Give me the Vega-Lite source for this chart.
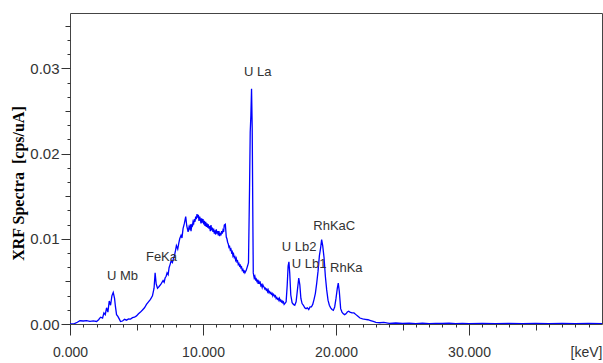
{
  "$schema": "https://vega.github.io/schema/vega-lite/v6.json",
  "width": 532,
  "height": 311,
  "autosize": {"type": "none"},
  "padding": {"left": 70, "top": 13, "right": 1, "bottom": 39},
  "background": "white",
  "config": {
    "view": {"stroke": "#444", "strokeWidth": 1},
    "axis": {"grid": false, "domain": false, "tickColor": "#333", "labelColor": "#333", "labelFlush": false, "labelFont": "Liberation Sans Narrow, Liberation Sans, sans-serif"}
  },
  "datasets": {
    "spectrum": [
      {"E":0.00,"v":0.00000},{"E":0.30,"v":0.00002},{"E":0.55,"v":0.00020},{"E":0.75,"v":0.00038},{"E":1.00,"v":0.00035},{"E":1.25,"v":0.00040},{"E":1.50,"v":0.00030},{"E":1.75,"v":0.00036},{"E":2.00,"v":0.00030},{"E":2.15,"v":0.00050},{"E":2.30,"v":0.00080},{"E":2.45,"v":0.00070},{"E":2.55,"v":0.00130},{"E":2.65,"v":0.00110},{"E":2.75,"v":0.00190},{"E":2.85,"v":0.00140},{"E":2.95,"v":0.00270},{"E":3.05,"v":0.00220},{"E":3.15,"v":0.00330},{"E":3.25,"v":0.00370},{"E":3.35,"v":0.00300},{"E":3.42,"v":0.00200},{"E":3.50,"v":0.00110},{"E":3.60,"v":0.00090},{"E":3.70,"v":0.00060},{"E":3.80,"v":0.00030},{"E":3.95,"v":0.00035},{"E":4.10,"v":0.00055},{"E":4.25,"v":0.00045},{"E":4.40,"v":0.00060},{"E":4.55,"v":0.00058},{"E":4.70,"v":0.00075},{"E":4.85,"v":0.00080},{"E":5.00,"v":0.00095},{"E":5.15,"v":0.00120},{"E":5.30,"v":0.00140},{"E":5.45,"v":0.00165},{"E":5.60,"v":0.00190},{"E":5.75,"v":0.00230},{"E":5.90,"v":0.00260},{"E":6.05,"v":0.00290},{"E":6.20,"v":0.00330},{"E":6.32,"v":0.00420},{"E":6.40,"v":0.00600},{"E":6.48,"v":0.00470},{"E":6.58,"v":0.00420},{"E":6.70,"v":0.00440},{"E":6.85,"v":0.00470},{"E":7.00,"v":0.00510},{"E":7.08,"v":0.00490},{"E":7.15,"v":0.00540},{"E":7.23,"v":0.00560},{"E":7.30,"v":0.00600},{"E":7.38,"v":0.00580},{"E":7.45,"v":0.00660},{"E":7.53,"v":0.00700},{"E":7.60,"v":0.00740},{"E":7.70,"v":0.00720},{"E":7.78,"v":0.00770},{"E":7.85,"v":0.00800},{"E":7.93,"v":0.00860},{"E":8.00,"v":0.00920},{"E":8.10,"v":0.00880},{"E":8.18,"v":0.00950},{"E":8.25,"v":0.01000},{"E":8.35,"v":0.01040},{"E":8.42,"v":0.01010},{"E":8.50,"v":0.01120},{"E":8.60,"v":0.01180},{"E":8.70,"v":0.01260},{"E":8.78,"v":0.01150},{"E":8.88,"v":0.01080},{"E":8.95,"v":0.01140},{"E":9.00,"v":0.01120},{"E":9.05,"v":0.01170},{"E":9.10,"v":0.01090},{"E":9.15,"v":0.01160},{"E":9.20,"v":0.01150},{"E":9.25,"v":0.01200},{"E":9.30,"v":0.01180},{"E":9.35,"v":0.01230},{"E":9.40,"v":0.01200},{"E":9.45,"v":0.01260},{"E":9.50,"v":0.01230},{"E":9.55,"v":0.01290},{"E":9.60,"v":0.01250},{"E":9.65,"v":0.01280},{"E":9.70,"v":0.01210},{"E":9.75,"v":0.01260},{"E":9.80,"v":0.01230},{"E":9.85,"v":0.01180},{"E":9.90,"v":0.01240},{"E":9.95,"v":0.01190},{"E":10.00,"v":0.01230},{"E":10.05,"v":0.01170},{"E":10.10,"v":0.01210},{"E":10.15,"v":0.01150},{"E":10.20,"v":0.01200},{"E":10.25,"v":0.01140},{"E":10.30,"v":0.01180},{"E":10.35,"v":0.01130},{"E":10.40,"v":0.01170},{"E":10.45,"v":0.01120},{"E":10.50,"v":0.01150},{"E":10.55,"v":0.01090},{"E":10.60,"v":0.01160},{"E":10.65,"v":0.01100},{"E":10.70,"v":0.01130},{"E":10.75,"v":0.01080},{"E":10.80,"v":0.01120},{"E":10.85,"v":0.01060},{"E":10.90,"v":0.01100},{"E":10.95,"v":0.01050},{"E":11.00,"v":0.01110},{"E":11.05,"v":0.01060},{"E":11.10,"v":0.01090},{"E":11.15,"v":0.01040},{"E":11.20,"v":0.01090},{"E":11.25,"v":0.01030},{"E":11.30,"v":0.01070},{"E":11.35,"v":0.01040},{"E":11.40,"v":0.01090},{"E":11.45,"v":0.01060},{"E":11.50,"v":0.01100},{"E":11.55,"v":0.01080},{"E":11.60,"v":0.01160},{"E":11.68,"v":0.01170},{"E":11.75,"v":0.01020},{"E":11.80,"v":0.01000},{"E":11.85,"v":0.00960},{"E":11.90,"v":0.00940},{"E":11.95,"v":0.00900},{"E":12.00,"v":0.00910},{"E":12.05,"v":0.00870},{"E":12.10,"v":0.00880},{"E":12.15,"v":0.00840},{"E":12.20,"v":0.00850},{"E":12.25,"v":0.00800},{"E":12.30,"v":0.00820},{"E":12.35,"v":0.00780},{"E":12.40,"v":0.00790},{"E":12.45,"v":0.00750},{"E":12.50,"v":0.00770},{"E":12.55,"v":0.00730},{"E":12.60,"v":0.00740},{"E":12.65,"v":0.00700},{"E":12.70,"v":0.00710},{"E":12.75,"v":0.00680},{"E":12.80,"v":0.00690},{"E":12.85,"v":0.00660},{"E":12.90,"v":0.00670},{"E":12.95,"v":0.00630},{"E":13.00,"v":0.00640},{"E":13.05,"v":0.00610},{"E":13.10,"v":0.00620},{"E":13.15,"v":0.00600},{"E":13.25,"v":0.00630},{"E":13.35,"v":0.00680},{"E":13.42,"v":0.00720},{"E":13.50,"v":0.01600},{"E":13.55,"v":0.02250},{"E":13.60,"v":0.02450},{"E":13.65,"v":0.02760},{"E":13.70,"v":0.02300},{"E":13.74,"v":0.01400},{"E":13.78,"v":0.00600},{"E":13.85,"v":0.00540},{"E":13.90,"v":0.00560},{"E":13.95,"v":0.00520},{"E":14.00,"v":0.00530},{"E":14.05,"v":0.00500},{"E":14.10,"v":0.00510},{"E":14.15,"v":0.00470},{"E":14.20,"v":0.00500},{"E":14.25,"v":0.00480},{"E":14.30,"v":0.00490},{"E":14.35,"v":0.00450},{"E":14.40,"v":0.00460},{"E":14.45,"v":0.00430},{"E":14.50,"v":0.00460},{"E":14.55,"v":0.00440},{"E":14.60,"v":0.00430},{"E":14.65,"v":0.00410},{"E":14.70,"v":0.00420},{"E":14.75,"v":0.00400},{"E":14.80,"v":0.00410},{"E":14.85,"v":0.00380},{"E":14.90,"v":0.00400},{"E":14.95,"v":0.00370},{"E":15.00,"v":0.00380},{"E":15.05,"v":0.00360},{"E":15.10,"v":0.00370},{"E":15.15,"v":0.00350},{"E":15.20,"v":0.00360},{"E":15.25,"v":0.00330},{"E":15.30,"v":0.00350},{"E":15.35,"v":0.00340},{"E":15.40,"v":0.00320},{"E":15.45,"v":0.00330},{"E":15.50,"v":0.00300},{"E":15.55,"v":0.00310},{"E":15.60,"v":0.00290},{"E":15.65,"v":0.00300},{"E":15.70,"v":0.00280},{"E":15.75,"v":0.00300},{"E":15.80,"v":0.00270},{"E":15.85,"v":0.00280},{"E":15.90,"v":0.00260},{"E":15.95,"v":0.00270},{"E":16.00,"v":0.00250},{"E":16.05,"v":0.00260},{"E":16.10,"v":0.00230},{"E":16.15,"v":0.00240},{"E":16.25,"v":0.00260},{"E":16.33,"v":0.00450},{"E":16.40,"v":0.00680},{"E":16.46,"v":0.00730},{"E":16.52,"v":0.00600},{"E":16.60,"v":0.00340},{"E":16.70,"v":0.00250},{"E":16.80,"v":0.00230},{"E":16.90,"v":0.00220},{"E":17.00,"v":0.00260},{"E":17.10,"v":0.00400},{"E":17.20,"v":0.00540},{"E":17.28,"v":0.00460},{"E":17.36,"v":0.00300},{"E":17.45,"v":0.00240},{"E":17.55,"v":0.00220},{"E":17.65,"v":0.00190},{"E":17.75,"v":0.00180},{"E":17.85,"v":0.00190},{"E":17.95,"v":0.00170},{"E":18.05,"v":0.00200},{"E":18.15,"v":0.00200},{"E":18.25,"v":0.00230},{"E":18.35,"v":0.00290},{"E":18.45,"v":0.00360},{"E":18.55,"v":0.00480},{"E":18.65,"v":0.00620},{"E":18.75,"v":0.00800},{"E":18.85,"v":0.00900},{"E":18.92,"v":0.00990},{"E":19.00,"v":0.00920},{"E":19.10,"v":0.00780},{"E":19.20,"v":0.00560},{"E":19.30,"v":0.00400},{"E":19.40,"v":0.00280},{"E":19.50,"v":0.00220},{"E":19.60,"v":0.00190},{"E":19.70,"v":0.00170},{"E":19.80,"v":0.00160},{"E":19.90,"v":0.00200},{"E":20.00,"v":0.00300},{"E":20.10,"v":0.00420},{"E":20.17,"v":0.00480},{"E":20.25,"v":0.00380},{"E":20.35,"v":0.00180},{"E":20.45,"v":0.00140},{"E":20.55,"v":0.00120},{"E":20.65,"v":0.00110},{"E":20.75,"v":0.00120},{"E":20.85,"v":0.00140},{"E":20.95,"v":0.00150},{"E":21.05,"v":0.00140},{"E":21.20,"v":0.00130},{"E":21.35,"v":0.00130},{"E":21.50,"v":0.00110},{"E":21.65,"v":0.00090},{"E":21.80,"v":0.00070},{"E":22.00,"v":0.00060},{"E":22.20,"v":0.00055},{"E":22.40,"v":0.00050},{"E":22.60,"v":0.00040},{"E":22.80,"v":0.00030},{"E":23.00,"v":0.00020},{"E":23.30,"v":0.00015},{"E":23.60,"v":0.00020},{"E":24.00,"v":0.00008},{"E":24.50,"v":0.00012},{"E":25.00,"v":0.00006},{"E":25.50,"v":0.00010},{"E":26.00,"v":0.00005},{"E":26.50,"v":0.00010},{"E":27.00,"v":0.00004},{"E":27.50,"v":0.00008},{"E":28.00,"v":0.00006},{"E":28.50,"v":0.00010},{"E":29.00,"v":0.00004},{"E":29.50,"v":0.00008},{"E":30.00,"v":0.00005},{"E":31.00,"v":0.00008},{"E":32.00,"v":0.00004},{"E":33.00,"v":0.00007},{"E":34.00,"v":0.00005},{"E":35.00,"v":0.00008},{"E":36.00,"v":0.00004},{"E":37.00,"v":0.00006},{"E":38.00,"v":0.00005},{"E":39.00,"v":0.00007},{"E":40.00,"v":0.00004}
    ],
    "peaks": [
      {"label":"U Mb","E":2.78,"v":0.00563},
      {"label":"FeKa","E":5.71,"v":0.00786},
      {"label":"U La","E":13.08,"v":0.02952},
      {"label":"U Lb2","E":15.92,"v":0.00904},
      {"label":"U Lb1","E":16.67,"v":0.00704},
      {"label":"RhKaC","E":18.29,"v":0.0115},
      {"label":"RhKa","E":19.55,"v":0.00663}
    ]
  },
  "layer": [
    {
      "data": {"name": "spectrum"},
      "mark": {"type": "line", "color": "#0000ff", "strokeWidth": 1.3, "clip": true},
      "encoding": {
        "x": {"field": "E", "type": "quantitative", "scale": {"domain": [0, 40], "nice": false, "zero": false},
          "axis": {"orient": "bottom", "values": [0, 10, 20, 30], "format": ".3f", "tickSize": 11, "labelPadding": 10, "labelFontSize": 14,
            "title": "[keV]", "titleX": 532, "titleY": 28, "titleAlign": "right", "titleBaseline": "middle", "titleFont": "Liberation Sans", "titleFontSize": 14, "titleFontWeight": "normal", "titleColor": "#333"}},
        "y": {"field": "v", "type": "quantitative", "scale": {"domain": [0, 0.0365], "nice": false, "zero": false},
          "axis": {"orient": "left", "values": [0, 0.01, 0.02, 0.03], "format": ".2f", "tickSize": 9, "labelPadding": 2, "labelFontSize": 15,
            "title": "XRF Spectra\u00a0 [cps/uA]", "titleFont": "Liberation Serif", "titleFontWeight": "bold", "titleFontSize": 16, "titleColor": "black",
            "titleAngle": 270, "titleX": -52, "titleY": 170, "titleAlign": "center", "titleBaseline": "middle"}}
      }
    },
    {
      "data": {"name": "spectrum"},
      "mark": {"type": "line", "opacity": 0},
      "encoding": {
        "x": {"field": "E", "type": "quantitative", "scale": {"domain": [0, 40], "nice": false, "zero": false},
          "axis": {"orient": "bottom", "values": [5, 15, 25, 35], "tickSize": 6, "labels": false, "title": null}},
        "y": {"field": "v", "type": "quantitative", "scale": {"domain": [0, 0.0365], "nice": false, "zero": false},
          "axis": {"orient": "left", "values": [0.005, 0.015, 0.025, 0.035], "tickSize": 5, "labels": false, "title": null}}
      }
    },
    {
      "data": {"name": "spectrum"},
      "mark": {"type": "line", "opacity": 0},
      "encoding": {
        "x": {"field": "E", "type": "quantitative", "scale": {"domain": [0, 40], "nice": false, "zero": false},
          "axis": {"orient": "bottom", "values": [1,2,3,4,6,7,8,9,11,12,13,14,16,17,18,19,21,22,23,24,26,27,28,29,31,32,33,34,36,37,38,39], "tickSize": 3, "labels": false, "title": null}},
        "y": {"field": "v", "type": "quantitative", "scale": {"domain": [0, 0.0365], "nice": false, "zero": false},
          "axis": {"orient": "left", "values": [0.0016667,0.0033333,0.0066667,0.0083333,0.0116667,0.0133333,0.0166667,0.0183333,0.0216667,0.0233333,0.0266667,0.0283333,0.0316667,0.0333333], "tickSize": 3, "labels": false, "title": null}}
      }
    },
    {
      "data": {"name": "peaks"},
      "mark": {"type": "text", "align": "left", "baseline": "middle", "font": "Liberation Sans", "fontSize": 13, "color": "#333"},
      "encoding": {
        "x": {"field": "E", "type": "quantitative", "axis": null},
        "y": {"field": "v", "type": "quantitative", "axis": null},
        "text": {"field": "label"}
      }
    }
  ],
  "resolve": {"axis": {"x": "independent", "y": "independent"}}
}
